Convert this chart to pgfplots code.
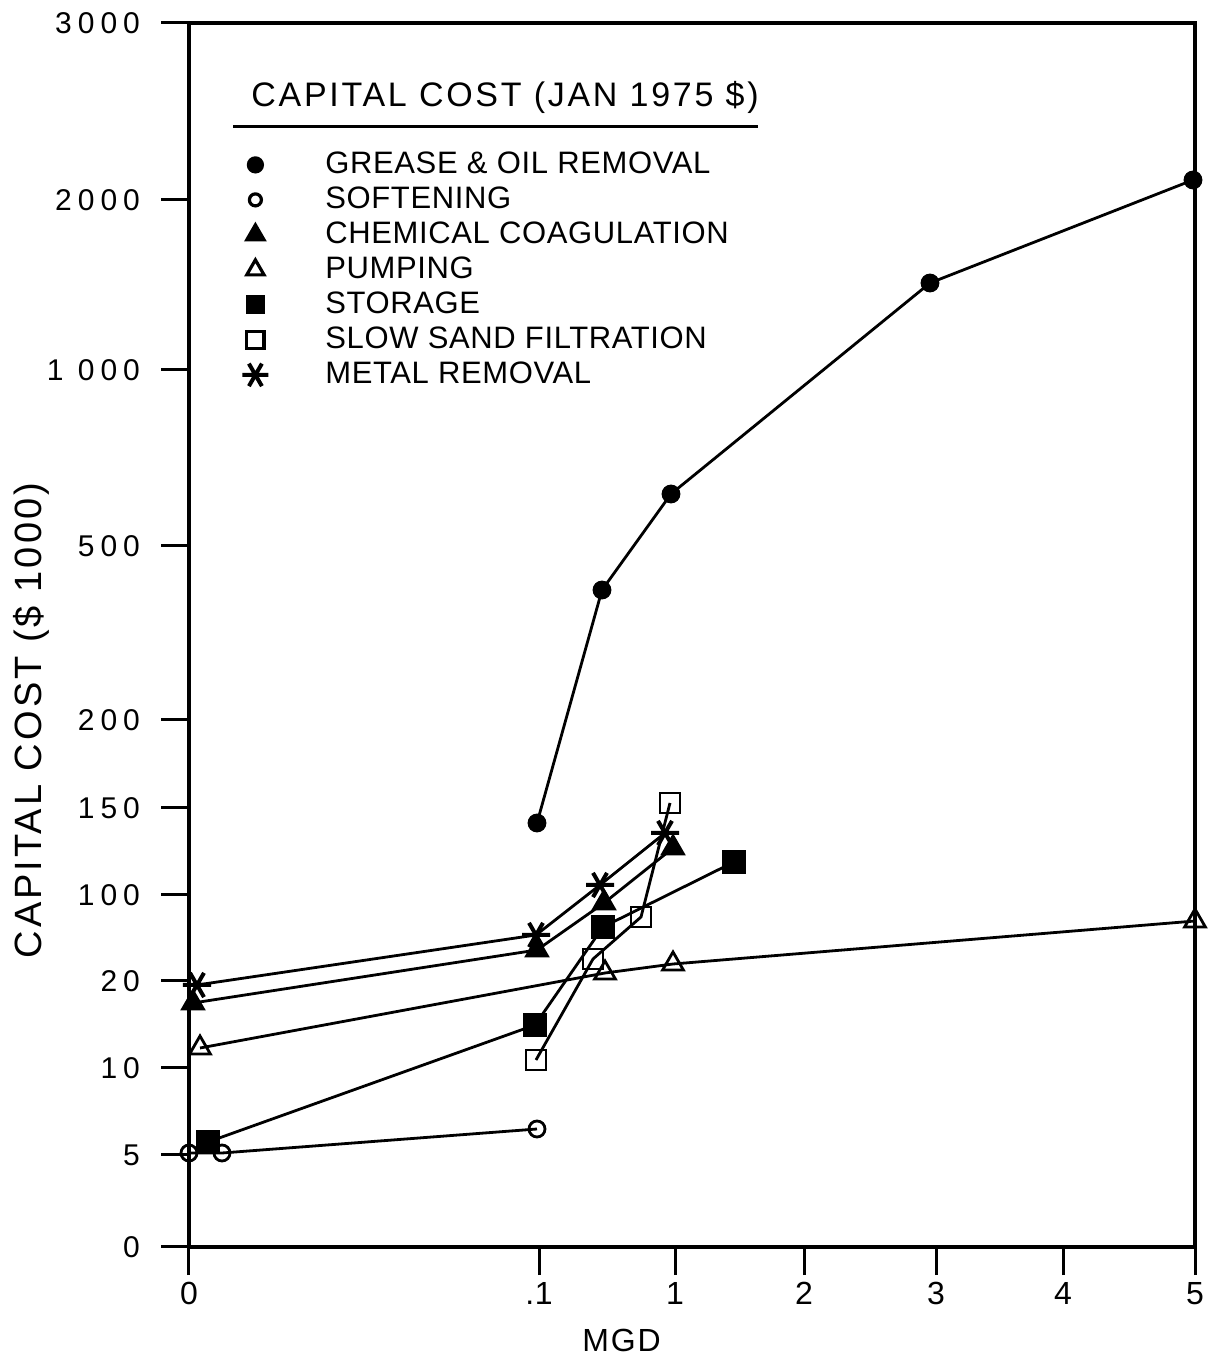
\documentclass[border=0pt]{standalone}
\usepackage{fontspec}
\setmainfont{Liberation Sans}[LetterSpace=2]
\usepackage{pgfplots}
\pgfplotsset{compat=1.18}
\pgfplotsset{mylegend/.style={legend image code/.code={\path[black, line width=1.6pt, #1] plot coordinates {(10pt,0pt)}; \path[draw=none, fill=none] (0pt,0pt) -- (43pt,0pt);}}}
\begin{document}
\begin{tikzpicture}
\useasboundingbox (0,0) rectangle (608pt,680pt);
\begin{axis}[
 at={(94.5pt,56.5pt)}, anchor=south west,
 scale only axis, width=503pt, height=612pt,
 xmin=0,xmax=1006,ymin=0,ymax=1224,
 axis line style={line width=2pt},
 xtick pos=bottom, ytick pos=left,
 xtick={0,350,486,615,747,874,1006},
 xticklabels={0,.1,1,2,3,4,5},
 ytick={0,92,179,266,352,439,527,701,877,1047,1224},
 yticklabels={0,5,10,20,100,150,200,500,1 000,2000,3000},
 tick align=outside, major tick length=14pt,
 tick style={line width=1.5pt, black},
 xticklabel style={font=\fontsize{16}{16}\selectfont},
 yticklabel style={font=\fontsize{15}{15}\selectfont\addfontfeature{LetterSpace=20}, xshift=-7pt},
 every axis y label/.style={at={(axis description cs:-0.157,0.43)}, rotate=90, anchor=center},
 every axis x label/.style={at={(axis description cs:0.43,-0.076)}, anchor=center},
 ylabel={CAPITAL COST (\$ 1000)},
 xlabel={MGD},
 ylabel style={font=\fontsize{19}{19}\selectfont\addfontfeature{LetterSpace=8}},
 xlabel style={font=\fontsize{16}{16}\selectfont\addfontfeature{LetterSpace=6}},
 legend style={at={(axis cs:46,1096)}, anchor=north west, draw=none, fill=none, inner sep=0pt,
   font=\fontsize{15.5}{15.5}\selectfont, row sep=4pt,
   nodes={inner ysep=0pt, inner xsep=2pt, text height=11pt, text depth=2.5pt, anchor=west}},
 legend cell align=left,
 clip=false,
]
\addplot[black, line width=1.4pt, mark=*, mark size=4pt, forget plot] coordinates {(348,424) (413,657) (482,753) (741,964) (1004,1067)};
\addplot[black, line width=1.4pt, mark=o, mark size=4pt, mark options={fill=white}, forget plot] coordinates {(0,94) (33,94) (348,118)};
\addplot[black, line width=1.4pt, mark=triangle*, mark size=6pt, forget plot] coordinates {(4,244) (348,297) (415,344) (484,399)};
\addplot[black, line width=1.4pt, mark=triangle, mark size=6pt, mark options={fill=white}, forget plot] coordinates {(11,199) (416,274) (484,283) (1006,326)};
\addplot[black, line width=1.4pt, mark=square*, mark size=5.5pt, forget plot] coordinates {(19,105) (346,222) (414,320) (545,385)};
\addplot[black, line width=1.4pt, mark=square, mark size=5pt, mark options={fill=white}, forget plot] coordinates {(347,187) (404,288) (452,330) (481,444)};
\addplot[black, line width=1.4pt, mark=asterisk, mark size=7pt, mark options={line width=2pt, rotate=90}, forget plot] coordinates {(8,262) (347,312) (411,362) (476,414)};
\addlegendimage{mylegend={mark=*, mark size=3.5pt}}
\addlegendentry{GREASE \& OIL REMOVAL}
\addlegendimage{mylegend={mark=o, mark size=3pt}}
\addlegendentry{SOFTENING}
\addlegendimage{mylegend={mark=triangle*, mark size=5pt}}
\addlegendentry{CHEMICAL COAGULATION}
\addlegendimage{mylegend={mark=triangle, mark size=5pt}}
\addlegendentry{PUMPING}
\addlegendimage{mylegend={mark=square*, mark size=4pt}}
\addlegendentry{STORAGE}
\addlegendimage{mylegend={mark=square, mark size=4.3pt}}
\addlegendentry{SLOW SAND FILTRATION}
\addlegendimage{mylegend={mark=asterisk, mark size=6.5pt, mark options={line width=2pt, rotate=90}}}
\addlegendentry{METAL REMOVAL}
\node[font=\fontsize{17}{17}\selectfont\addfontfeature{LetterSpace=8}] at (axis cs:316,1150) {CAPITAL COST (JAN 1975 \$)};
\draw[line width=1.5pt] (axis cs:44,1120) -- (axis cs:569,1120);
\end{axis}
\end{tikzpicture}
\end{document}
